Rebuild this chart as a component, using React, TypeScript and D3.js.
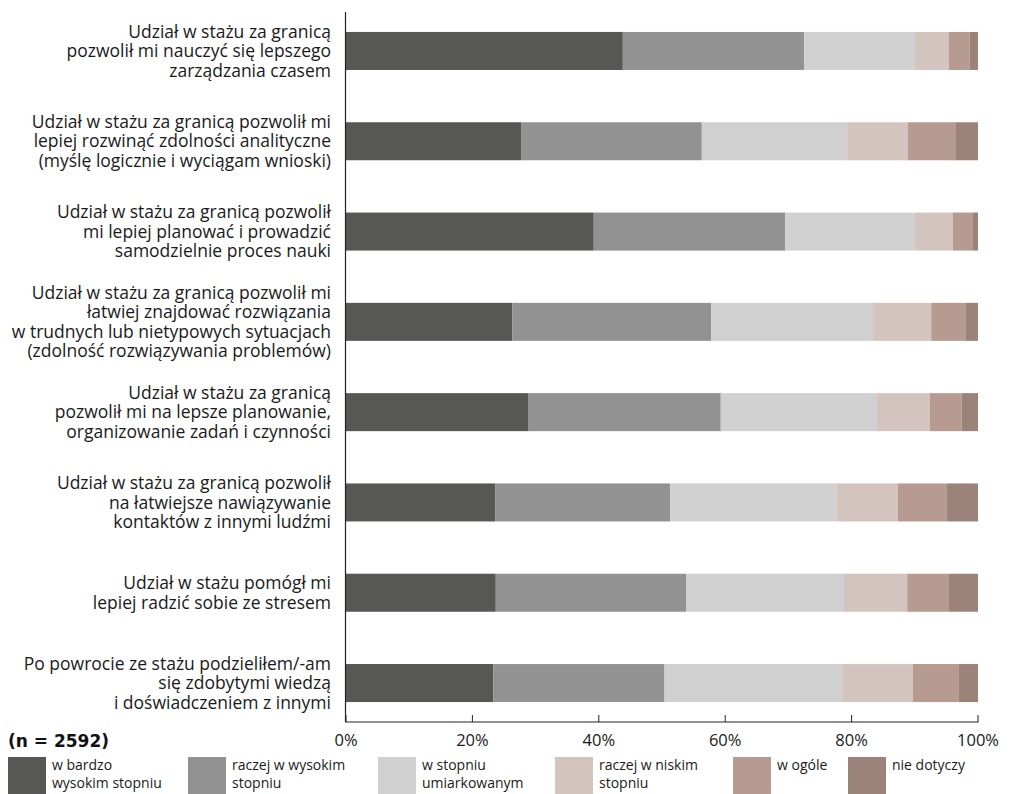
import React from "react";
import * as d3 from "d3";

const categories = [
  "Udział w stażu za granicą\npozwolił mi nauczyć się lepszego\nzarządzania czasem",
  "Udział w stażu za granicą pozwolił mi\nlepiej rozwinąć zdolności analityczne\n(myślę logicznie i wyciągam wnioski)",
  "Udział w stażu za granicą pozwolił\nmi lepiej planować i prowadzić\nsamodzielnie proces nauki",
  "Udział w stażu za granicą pozwolił mi\nłatwiej znajdować rozwiązania\nw trudnych lub nietypowych sytuacjach\n(zdolność rozwiązywania problemów)",
  "Udział w stażu za granicą\npozwolił mi na lepsze planowanie,\norganizowanie zadań i czynności",
  "Udział w stażu za granicą pozwolił\nna łatwiejsze nawiązywanie\nkontaktów z innymi ludźmi",
  "Udział w stażu pomógł mi\nlepiej radzić sobie ze stresem",
  "Po powrocie ze stażu podzieliłem/-am\nsię zdobytymi wiedzą\ni doświadczeniem z innymi",
];

const seriesNames = [
  "w bardzo\nwysokim stopniu",
  "raczej w wysokim\nstopniu",
  "w stopniu\numiarkowanym",
  "raczej w niskim\nstopniu",
  "w ogóle",
  "nie dotyczy",
];

const veryHigh = [43.8, 27.7, 39.2, 26.3, 28.9, 23.6, 23.7, 23.3];
const ratherHigh = [28.7, 28.6, 30.3, 31.5, 30.4, 27.7, 30.1, 27.1];
const moderate = [17.5, 23.0, 20.5, 25.6, 24.6, 26.3, 25.0, 28.1];
const ratherLow = [5.4, 9.6, 6.0, 9.2, 8.5, 9.7, 10.0, 11.2];
const notAtAll = [3.3, 7.5, 3.1, 5.5, 5.0, 7.8, 6.6, 7.2];
const notApplicable = [1.3, 3.6, 0.9, 1.9, 2.6, 4.9, 4.6, 3.1];

const tickValues = [0, 20, 40, 60, 80, 100];
const sampleNote = "(n = 2592)";

const colors = ["#575755", "#929292", "#d0d0d0", "#d3c4bf", "#b79b91", "#9c8379"];

const FONT = "'Open Sans', 'Noto Sans', sans-serif";

export default function App() {
  const seriesValues = [veryHigh, ratherHigh, moderate, ratherLow, notAtAll, notApplicable];
  const rows = categories.map((c, i) => {
    const r: any = { cat: c };
    seriesNames.forEach((s, j) => (r[s] = seriesValues[j][i]));
    return r;
  });
  const stack = d3.stack<any>().keys(seriesNames)(rows);

  const x = d3.scaleLinear().domain([0, 100]).range([346, 978]);
  const y = d3
    .scaleBand<string>()
    .domain(categories)
    .range([12, 722])
    .paddingInner(0.579)
    .paddingOuter(0.221);

  const axisY = 722;
  const lineH = 19.5;
  const legendX = [8, 188, 378, 555, 733, 848];

  return (
    <svg
      width={1010}
      height={794}
      style={{ position: "absolute", left: 0, top: 0, background: "#fff" }}
    >
      {stack.map((layer, j) => (
        <g key={j} fill={colors[j]}>
          {layer.map((d, i) => (
            <rect
              key={i}
              x={x(d[0])}
              y={y(categories[i])}
              width={x(d[1]) - x(d[0])}
              height={y.bandwidth()}
            />
          ))}
        </g>
      ))}

      {/* axes */}
      <line x1={345.5} x2={345.5} y1={12} y2={axisY} stroke="#222" strokeWidth={1.2} />
      <line x1={345} x2={978.5} y1={axisY} y2={axisY} stroke="#222" strokeWidth={1.2} />
      {tickValues.map((t) => (
        <g key={t}>
          <line x1={x(t)} x2={x(t)} y1={axisY - 7} y2={axisY} stroke="#222" strokeWidth={1} />
          <text
            x={x(t)}
            y={axisY + 24}
            textAnchor="middle"
            fontFamily={FONT}
            fontSize={16.5}
            fill="#1a1a1a"
          >
            {t}%
          </text>
        </g>
      ))}

      {/* category labels */}
      {categories.map((c) => {
        const lines = c.split("\n");
        const cy = (y(c) as number) + y.bandwidth() / 2;
        const start = cy - ((lines.length - 1) * lineH) / 2;
        return (
          <text
            key={c}
            textAnchor="end"
            fontFamily={FONT}
            fontSize={17.5}
            fill="#1a1a1a"
          >
            {lines.map((l, k) => (
              <tspan key={k} x={331} y={start + k * lineH} dy="0.35em">
                {l}
              </tspan>
            ))}
          </text>
        );
      })}

      <text
        x={8}
        y={747}
        fontFamily="'DejaVu Sans', sans-serif"
        fontWeight="bold"
        fontSize={17}
        fill="#111"
      >
        {sampleNote}
      </text>

      {/* legend */}
      {seriesNames.map((s, j) => (
        <g key={s} transform={`translate(${legendX[j]},757)`}>
          <rect x={0} y={0} width={38} height={37} fill={colors[j]} />
          <text fontFamily={FONT} fontSize={14} fill="#1a1a1a">
            {s.split("\n").map((l, k) => (
              <tspan key={k} x={44} y={13 + k * 18}>
                {l}
              </tspan>
            ))}
          </text>
        </g>
      ))}
    </svg>
  );
}
